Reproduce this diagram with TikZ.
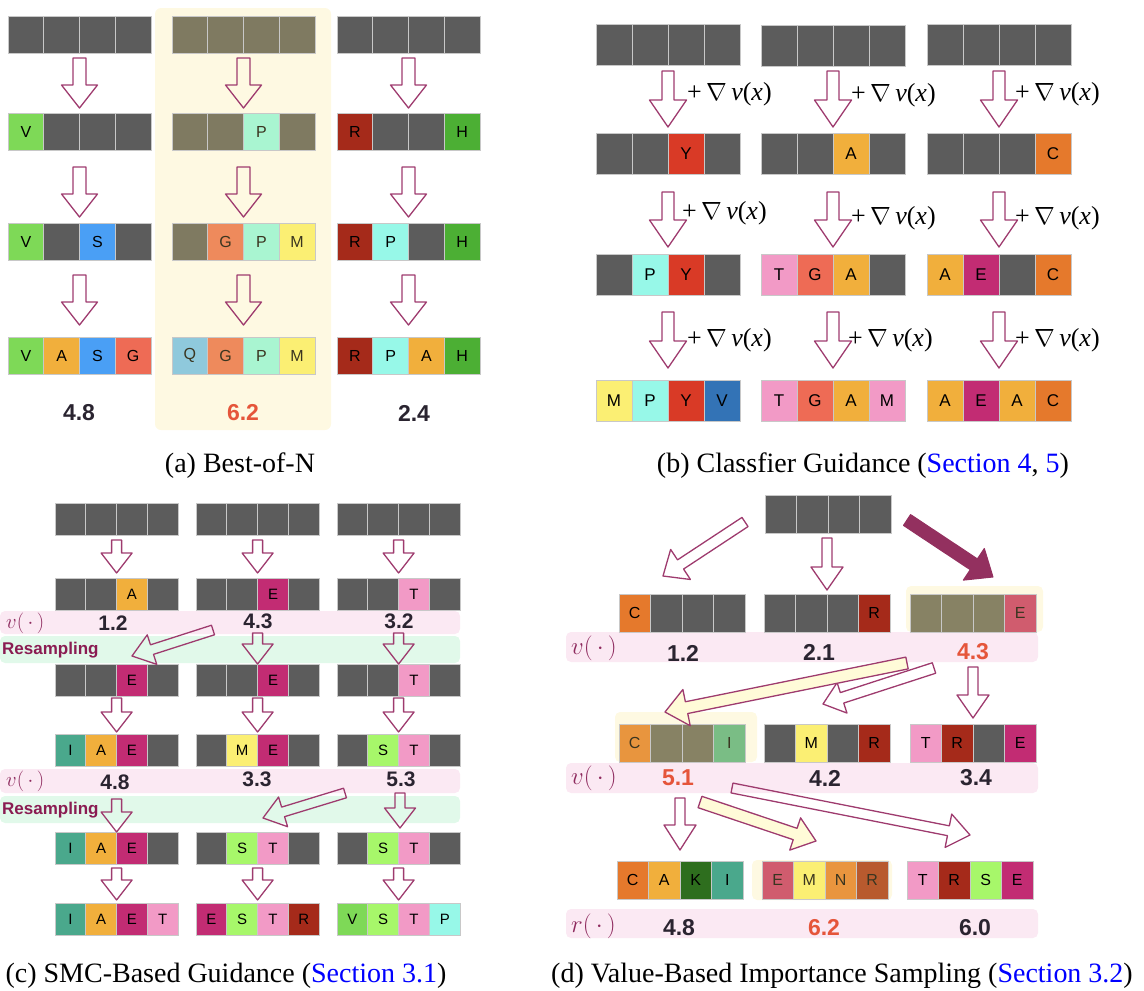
\documentclass[tikz,border=0pt]{standalone}
\usepackage{fontspec}
\setmainfont{Liberation Serif}
\newfontfamily\sansf{Liberation Sans}
\usetikzlibrary{calc}
\definecolor{kGr}{HTML}{5C5C5C}
\definecolor{kOl}{HTML}{7F7A61}
\definecolor{kOlb}{HTML}{878264}
\definecolor{kLine}{HTML}{C8C8C8}
\definecolor{kV}{HTML}{7ED957}
\definecolor{kS}{HTML}{4A9FF5}
\definecolor{kA}{HTML}{F1AF3C}
\definecolor{kG}{HTML}{EE6B55}
\definecolor{kR}{HTML}{A52A1A}
\definecolor{kH}{HTML}{4CAF34}
\definecolor{kP}{HTML}{97F8E8}
\definecolor{kY}{HTML}{D93A26}
\definecolor{kC}{HTML}{E5792C}
\definecolor{kT}{HTML}{F29AC6}
\definecolor{kE}{HTML}{C22C73}
\definecolor{kM}{HTML}{FBEF73}
\definecolor{kVb}{HTML}{3373B6}
\definecolor{kI}{HTML}{4AA88C}
\definecolor{kK}{HTML}{2E6E1E}
\definecolor{kSl}{HTML}{A7F76A}
\definecolor{hP}{HTML}{A9F5D1}
\definecolor{hG}{HTML}{EE8A5C}
\definecolor{hQ}{HTML}{8FC9DC}
\definecolor{hE}{HTML}{D05C6E}
\definecolor{hN}{HTML}{E9953E}
\definecolor{hR}{HTML}{B85A2E}
\definecolor{hC}{HTML}{E8953E}
\definecolor{hI}{HTML}{7ABD85}
\definecolor{kHlbg}{HTML}{FEF9E2}
\definecolor{kHlText}{HTML}{3A3520}
\definecolor{kPink}{HTML}{FBE9F3}
\definecolor{kGreen}{HTML}{E1F9EA}
\definecolor{kArrow}{HTML}{9E3B6E}
\definecolor{kDark}{HTML}{93305F}
\definecolor{kYfill}{HTML}{FFFBD8}
\definecolor{kLab}{HTML}{8E2A5E}
\definecolor{kRes}{HTML}{8A1C52}
\definecolor{kNum}{HTML}{2A2430}
\definecolor{kRed}{HTML}{E5553A}
\definecolor{kLink}{HTML}{0000FF}
\newcommand\hlt[1]{\textcolor{kHlText}{#1}}
\newcommand\gradv{+\,$\nabla$\,\textit{v}(\textit{x})}
\newcommand\seqrow[6]{%
  \foreach \cc/\ll [count=\ii] in {#6}{%
    \node[cell, fill=\cc, minimum width=#4pt, minimum height=#5pt, anchor=north west]
      (#1-\ii) at ({#2+(\ii-1)*#4},#3) {\ll};
  }}
\newcommand\blkarr[9]{%
  \coordinate (#1s) at (#2,#3);
  \coordinate (#1e) at (#4,#5);
  \coordinate (#1b) at ($(#1e)!#8!(#1s)$);
  \draw[#9] ($(#1s)!#6!90:(#1e)$) -- ($(#1b)!#6!90:(#1e)$) -- ($(#1b)!#7!90:(#1e)$)
    -- (#1e) -- ($(#1b)!#7!-90:(#1e)$) -- ($(#1b)!#6!-90:(#1e)$) -- ($(#1s)!#6!-90:(#1e)$) -- cycle;
}
\begin{document}
\begin{tikzpicture}[x=1pt,y=-1pt,
  cell/.style={draw=kLine, line width=0.7pt, inner sep=0pt, outer sep=0pt, text=black},
  harrow/.style={draw=kArrow, line width=1.3pt, line join=round},
  yarrow/.style={harrow, fill=kYfill},
  darrow/.style={draw=kDark, fill=kDark, line width=1pt, line join=round},
  num/.style={inner sep=0pt, text=kNum, font={\sansf\bfseries\fontsize{#1}{#1}\selectfont}},
  num/.default=23,
  grad/.style={inner sep=0pt, anchor=west, font=\fontsize{26}{28}\selectfont},
  vlab/.style={inner sep=0pt, anchor=west, text=kLab, font=\fontsize{#1}{#1}\selectfont},
  reslab/.style={inner sep=0pt, anchor=west, text=kRes, font={\sansf\bfseries\fontsize{17}{17}\selectfont}},
  captext/.style={inner sep=0pt, anchor=base, font=\fontsize{28}{30}\selectfont},
  band/.style={rounded corners=5pt}]
\useasboundingbox (0,0) rectangle (1144,991);

% ---------------- (a) Best-of-N ----------------
\fill[kHlbg, rounded corners=6pt] (155,8) rectangle (331,430);
\begin{scope}[cell/.append style={font=\sansf\fontsize{16}{16}\selectfont}]
\seqrow{a11}{8}{16}{35.75}{37}{kGr/,kGr/,kGr/,kGr/}
\seqrow{a21}{172}{16}{35.75}{37}{kOl/,kOl/,kOl/,kOl/}
\seqrow{a31}{337}{16}{35.75}{37}{kGr/,kGr/,kGr/,kGr/}
\seqrow{a12}{8}{113}{35.75}{37}{kV/V,kGr/,kGr/,kGr/}
\seqrow{a22}{172}{113}{35.75}{37}{kOl/,kOl/,hP/{\hlt P},kOl/}
\seqrow{a32}{337}{113}{35.75}{37}{kR/R,kGr/,kGr/,kH/H}
\seqrow{a13}{8}{223}{35.75}{37}{kV/V,kGr/,kS/S,kGr/}
\seqrow{a23}{172}{223}{35.75}{37}{kOl/,hG/{\hlt G},hP/{\hlt P},kM/{\hlt M}}
\seqrow{a33}{337}{223}{35.75}{37}{kR/R,kP/P,kGr/,kH/H}
\seqrow{a14}{8}{337}{35.75}{37}{kV/V,kA/A,kS/S,kG/G}
\seqrow{a24}{172}{337}{35.75}{37}{hQ/{\hlt Q},hG/{\hlt G},hP/{\hlt P},kM/{\hlt M}}
\seqrow{a34}{337}{337}{35.75}{37}{kR/R,kP/P,kA/A,kH/H}
\end{scope}
\foreach \cx [count=\k] in {79.5,243.5,408.5}{
  \foreach \ya/\yb [count=\j] in {58/108,167/217,275/325}{
    \blkarr{aar\k\j}{\cx}{\ya}{\cx}{\yb}{6.5pt}{18pt}{23pt}{harrow}
  }}
\node[num] (na1) at (79,413) {4.8};
\node[num, text=kRed] (na2) at (243,413) {6.2};
\node[num] (na3) at (414,413) {2.4};
\node[captext] (capa) at (240,472) {(a) Best-of-N};

% ---------------- (b) Classifier guidance ----------------
\begin{scope}[cell/.append style={font=\sansf\fontsize{17}{17}\selectfont}]
\seqrow{b11}{596}{24}{36}{41}{kGr/,kGr/,kGr/,kGr/}
\seqrow{b21}{761}{25}{36}{41}{kGr/,kGr/,kGr/,kGr/}
\seqrow{b31}{927}{24}{36}{41}{kGr/,kGr/,kGr/,kGr/}
\seqrow{b12}{596}{133}{36}{41}{kGr/,kGr/,kY/Y,kGr/}
\seqrow{b22}{761}{133}{36}{41}{kGr/,kGr/,kA/A,kGr/}
\seqrow{b32}{927}{133}{36}{41}{kGr/,kGr/,kGr/,kC/C}
\seqrow{b13}{596}{254}{36}{41}{kGr/,kP/P,kY/Y,kGr/}
\seqrow{b23}{761}{254}{36}{41}{kT/T,kG/G,kA/A,kGr/}
\seqrow{b33}{927}{254}{36}{41}{kA/A,kE/E,kGr/,kC/C}
\seqrow{b14}{596}{380}{36}{41}{kM/M,kP/P,kY/Y,kVb/V}
\seqrow{b24}{761}{380}{36}{41}{kT/T,kG/G,kA/A,kT/M}
\seqrow{b34}{927}{380}{36}{41}{kA/A,kE/E,kA/A,kC/C}
\end{scope}
\foreach \cx [count=\k] in {668,833,999}{
  \foreach \ya/\yb [count=\j] in {71/127,192/247,312/368}{
    \blkarr{bar\k\j}{\cx}{\ya}{\cx}{\yb}{6pt}{18.5pt}{27pt}{harrow}
  }}
\foreach \lx/\ly [count=\k] in {687/94,851/95,1015/94,682/213,851/218,1015/218,687/340,848/340,1015/340}{
  \node[grad] (gl\k) at (\lx,\ly) {\gradv};
}
\node[captext] (capb) at (863,472) {(b) Classfier Guidance (\textcolor{kLink}{Section 4}, \textcolor{kLink}{5})};

% ---------------- (c) SMC ----------------
\fill[kPink, band] (0,611) rectangle (460,634);
\fill[kGreen, band] (0,636) rectangle (460,663);
\fill[kPink, band] (0,769) rectangle (460,793);
\fill[kGreen, band] (0,796) rectangle (460,823);
\begin{scope}[cell/.append style={font=\sansf\fontsize{15}{15}\selectfont}]
\seqrow{c11}{55}{503}{30.8}{32}{kGr/,kGr/,kGr/,kGr/}
\seqrow{c21}{196}{503}{30.8}{32}{kGr/,kGr/,kGr/,kGr/}
\seqrow{c31}{337}{503}{30.8}{32}{kGr/,kGr/,kGr/,kGr/}
\seqrow{c12}{55}{578}{30.8}{32}{kGr/,kGr/,kA/A,kGr/}
\seqrow{c22}{196}{578}{30.8}{32}{kGr/,kGr/,kE/E,kGr/}
\seqrow{c32}{337}{578}{30.8}{32}{kGr/,kGr/,kT/T,kGr/}
\seqrow{c13}{55}{664}{30.8}{32}{kGr/,kGr/,kE/E,kGr/}
\seqrow{c23}{196}{664}{30.8}{32}{kGr/,kGr/,kE/E,kGr/}
\seqrow{c33}{337}{664}{30.8}{32}{kGr/,kGr/,kT/T,kGr/}
\seqrow{c14}{55}{734}{30.8}{32}{kI/I,kA/A,kE/E,kGr/}
\seqrow{c24}{196}{734}{30.8}{32}{kGr/,kM/M,kE/E,kGr/}
\seqrow{c34}{337}{734}{30.8}{32}{kGr/,kSl/S,kT/T,kGr/}
\seqrow{c15}{55}{832}{30.8}{32}{kI/I,kA/A,kE/E,kGr/}
\seqrow{c25}{196}{832}{30.8}{32}{kGr/,kSl/S,kT/T,kGr/}
\seqrow{c35}{337}{832}{30.8}{32}{kGr/,kSl/S,kT/T,kGr/}
\seqrow{c16}{55}{903}{30.8}{32}{kI/I,kA/A,kE/E,kT/T}
\seqrow{c26}{196}{903}{30.8}{32}{kE/E,kSl/S,kT/T,kR/R}
\seqrow{c36}{337}{903}{30.8}{32}{kV/V,kSl/S,kT/T,kP/P}
\end{scope}
\node[vlab=20] (vc1) at (6,623) {$v(\,\cdot\,)$};
\node[vlab=20] (vc2) at (6,781) {$v(\,\cdot\,)$};
\node[reslab] (rc1) at (2,650) {Resampling};
\node[reslab] (rc2) at (2,810) {Resampling};
\node[num=21] (nc1) at (113,623) {1.2};
\node[num=21] (nc2) at (258,621) {4.3};
\node[num=21] (nc3) at (399,621) {3.2};
\node[num=21] (nc4) at (115,782) {4.8};
\node[num=21] (nc5) at (257,779) {3.3};
\node[num=21] (nc6) at (401,779) {5.3};
\foreach \cx [count=\k] in {116.6,257.6,398.6}{
  \blkarr{car1\k}{\cx}{540}{\cx}{573}{5pt}{15.5pt}{20pt}{harrow}
  \blkarr{car3\k}{\cx}{698}{\cx}{732}{5pt}{15.5pt}{20pt}{harrow}
  \blkarr{car5\k}{\cx}{868}{\cx}{900}{5pt}{15.5pt}{20pt}{harrow}
}
\blkarr{car22}{257.6}{633}{257.6}{664}{5pt}{15.5pt}{20pt}{harrow}
\blkarr{car23}{398.6}{633}{398.6}{664}{5pt}{15.5pt}{20pt}{harrow}
\blkarr{car21}{213}{630}{132}{656}{5pt}{15.5pt}{21pt}{harrow}
\blkarr{car41}{116.6}{799}{116.6}{832}{5pt}{15.5pt}{20pt}{harrow}
\blkarr{car43}{400}{793}{400}{828}{5pt}{15.5pt}{20pt}{harrow}
\blkarr{car42}{345}{793}{263}{818}{5pt}{15.5pt}{21pt}{harrow}
\node[captext] (capc) at (226,982) {(c) SMC-Based Guidance (\textcolor{kLink}{Section 3.1})};

% ---------------- (d) Value-based IS ----------------
\fill[kHlbg, rounded corners=5pt] (906,586) rectangle (1043,632);
\fill[kHlbg, rounded corners=5pt] (615,712) rectangle (757,762);
\fill[kHlbg, rounded corners=5pt] (752,860) rectangle (892,900);
\fill[kPink, band] (566,632) rectangle (1038,662);
\fill[kPink, band] (566,763) rectangle (1038,793);
\fill[kPink, band] (566,909) rectangle (1038,938);
\begin{scope}[cell/.append style={font=\sansf\fontsize{16}{16}\selectfont}]
\seqrow{d0}{765}{495}{31.5}{38}{kGr/,kGr/,kGr/,kGr/}
\seqrow{d12}{619}{594}{31.5}{38}{kC/C,kGr/,kGr/,kGr/}
\seqrow{d22}{764}{594}{31.5}{38}{kGr/,kGr/,kGr/,kR/R}
\seqrow{d32}{910}{594}{31.5}{38}{kOlb/,kOlb/,kOlb/,hE/{\hlt E}}
\seqrow{d13}{619}{724}{31.5}{38}{hC/{\hlt C},kOlb/,kOlb/,hI/{\hlt I}}
\seqrow{d23}{764}{724}{31.5}{38}{kGr/,kM/M,kGr/,kR/R}
\seqrow{d33}{910}{724}{31.5}{38}{kT/T,kR/R,kGr/,kE/E}
\seqrow{d14}{617}{861}{31.5}{38}{kC/C,kA/A,kK/K,kI/I}
\seqrow{d24}{762}{861}{31.5}{38}{hE/{\hlt E},kM/{\hlt M},hN/{\hlt N},hR/{\hlt R}}
\seqrow{d34}{907}{861}{31.5}{38}{kT/T,kR/R,kSl/S,kE/E}
\end{scope}
\node[vlab=23] (vd1) at (571,648) {$v(\,\cdot\,)$};
\node[vlab=23] (vd2) at (571,778) {$v(\,\cdot\,)$};
\node[vlab=23] (rd1) at (571,926) {$r(\,\cdot\,)$};
\node[num=23] (nd1) at (683,653) {1.2};
\node[num=23] (nd2) at (819,652) {2.1};
\node[num=23, text=kRed] (nd3) at (973,652) {4.3};
\node[num=23, text=kRed] (nd4) at (678,778) {5.1};
\node[num=23] (nd5) at (825,778) {4.2};
\node[num=23] (nd6) at (976,778) {3.4};
\node[num=23] (nd7) at (679,928) {4.8};
\node[num=23, text=kRed] (nd8) at (824,928) {6.2};
\node[num=23] (nd9) at (975,928) {6.0};
\blkarr{dA1}{745}{522}{663}{576}{5.5pt}{18pt}{21pt}{harrow}
\blkarr{dA2}{827}{538}{827}{590}{5pt}{16pt}{23pt}{harrow}
\blkarr{dA3}{907}{520}{993}{577}{6.5pt}{19pt}{23pt}{darrow}
\blkarr{dB2}{934}{668}{823}{704}{5.5pt}{16pt}{20pt}{harrow}
\blkarr{dB1}{907}{663}{665}{712}{6pt}{18.5pt}{22pt}{yarrow}
\blkarr{dB3}{973}{667}{973}{718}{5pt}{16pt}{23pt}{harrow}
\blkarr{dC1}{680}{798}{680}{850}{5pt}{16pt}{25pt}{harrow}
\blkarr{dC3}{732}{788}{970}{835}{5pt}{17pt}{22pt}{harrow}
\blkarr{dC2}{700}{802}{816}{841}{6pt}{17pt}{22pt}{yarrow}
\node[captext] (capd) at (842,982) {(d) Value-Based Importance Sampling (\textcolor{kLink}{Section 3.2})};
\end{tikzpicture}
\end{document}
